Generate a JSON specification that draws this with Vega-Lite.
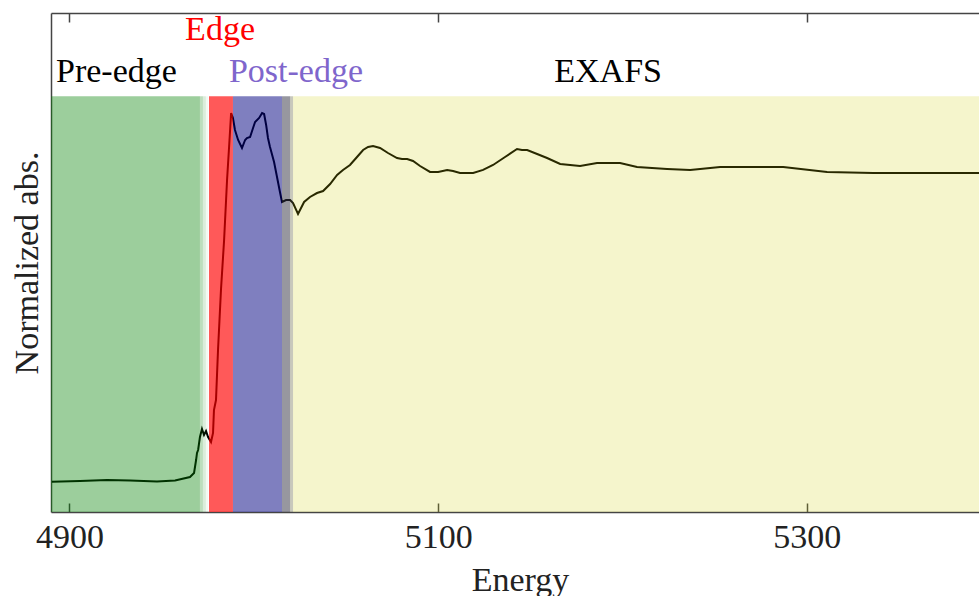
{
  "$schema": "https://vega.github.io/schema/vega-lite/v6.json",
  "width": 928,
  "height": 499,
  "autosize": {"type": "none"},
  "padding": {"left": 51, "top": 13, "right": 0, "bottom": 84},
  "background": "white",
  "config": {"view": {"stroke": null}, "font": "Liberation Serif"},
  "datasets": {
    "curve": [
      {"energy": 4890.5, "absorbance": 0.0729},
      {"energy": 4905.7, "absorbance": 0.0745},
      {"energy": 4920.4, "absorbance": 0.0770},
      {"energy": 4932.9, "absorbance": 0.0758},
      {"energy": 4947.5, "absorbance": 0.0733},
      {"energy": 4957.3, "absorbance": 0.0758},
      {"energy": 4965.4, "absorbance": 0.0842},
      {"energy": 4967.6, "absorbance": 0.0938},
      {"energy": 4968.7, "absorbance": 0.1250},
      {"energy": 4969.2, "absorbance": 0.1419},
      {"energy": 4969.8, "absorbance": 0.1491},
      {"energy": 4970.8, "absorbance": 0.1804},
      {"energy": 4971.9, "absorbance": 0.1996},
      {"energy": 4973.0, "absorbance": 0.1852},
      {"energy": 4974.1, "absorbance": 0.1948},
      {"energy": 4975.2, "absorbance": 0.1804},
      {"energy": 4976.8, "absorbance": 0.1683},
      {"energy": 4977.9, "absorbance": 0.1900},
      {"energy": 4978.4, "absorbance": 0.2453},
      {"energy": 4979.5, "absorbance": 0.2693},
      {"energy": 4980.6, "absorbance": 0.3896},
      {"energy": 4982.2, "absorbance": 0.5339},
      {"energy": 4983.9, "absorbance": 0.6541},
      {"energy": 4985.5, "absorbance": 0.7984},
      {"energy": 4986.6, "absorbance": 0.8778},
      {"energy": 4987.7, "absorbance": 0.9595},
      {"energy": 4988.7, "absorbance": 0.9475},
      {"energy": 4989.8, "absorbance": 0.9186},
      {"energy": 4991.5, "absorbance": 0.8946},
      {"energy": 4993.6, "absorbance": 0.8753},
      {"energy": 4995.3, "absorbance": 0.8946},
      {"energy": 4996.3, "absorbance": 0.8994},
      {"energy": 4998.0, "absorbance": 0.9018},
      {"energy": 4999.6, "absorbance": 0.9234},
      {"energy": 5000.7, "absorbance": 0.9379},
      {"energy": 5002.9, "absorbance": 0.9475},
      {"energy": 5004.5, "absorbance": 0.9595},
      {"energy": 5005.6, "absorbance": 0.9571},
      {"energy": 5006.7, "absorbance": 0.9307},
      {"energy": 5007.7, "absorbance": 0.8994},
      {"energy": 5008.8, "absorbance": 0.8778},
      {"energy": 5011.0, "absorbance": 0.8417},
      {"energy": 5012.6, "absorbance": 0.8056},
      {"energy": 5014.2, "absorbance": 0.7695},
      {"energy": 5015.3, "absorbance": 0.7455},
      {"energy": 5017.5, "absorbance": 0.7503},
      {"energy": 5019.7, "absorbance": 0.7503},
      {"energy": 5021.3, "absorbance": 0.7430},
      {"energy": 5024.0, "absorbance": 0.7168},
      {"energy": 5027.3, "absorbance": 0.7455},
      {"energy": 5030.5, "absorbance": 0.7575},
      {"energy": 5034.3, "absorbance": 0.7671},
      {"energy": 5037.6, "absorbance": 0.7719},
      {"energy": 5041.4, "absorbance": 0.7887},
      {"energy": 5045.2, "absorbance": 0.8104},
      {"energy": 5048.4, "absorbance": 0.8224},
      {"energy": 5052.2, "absorbance": 0.8345},
      {"energy": 5056.0, "absorbance": 0.8537},
      {"energy": 5059.3, "absorbance": 0.8705},
      {"energy": 5062.0, "absorbance": 0.8778},
      {"energy": 5064.7, "absorbance": 0.8802},
      {"energy": 5068.5, "absorbance": 0.8753},
      {"energy": 5072.8, "absorbance": 0.8633},
      {"energy": 5077.7, "absorbance": 0.8513},
      {"energy": 5080.4, "absorbance": 0.8489},
      {"energy": 5083.2, "absorbance": 0.8489},
      {"energy": 5086.4, "absorbance": 0.8441},
      {"energy": 5090.2, "absorbance": 0.8321},
      {"energy": 5095.6, "absorbance": 0.8177},
      {"energy": 5100.0, "absorbance": 0.8177},
      {"energy": 5104.9, "absorbance": 0.8226},
      {"energy": 5108.1, "absorbance": 0.8201},
      {"energy": 5111.9, "absorbance": 0.8153},
      {"energy": 5119.0, "absorbance": 0.8153},
      {"energy": 5124.4, "absorbance": 0.8226},
      {"energy": 5129.8, "absorbance": 0.8345},
      {"energy": 5136.3, "absorbance": 0.8537},
      {"energy": 5142.8, "absorbance": 0.8729},
      {"energy": 5145.5, "absorbance": 0.8705},
      {"energy": 5148.3, "absorbance": 0.8705},
      {"energy": 5153.7, "absorbance": 0.8609},
      {"energy": 5159.1, "absorbance": 0.8513},
      {"energy": 5166.2, "absorbance": 0.8369},
      {"energy": 5177.0, "absorbance": 0.8320},
      {"energy": 5186.2, "absorbance": 0.8393},
      {"energy": 5198.7, "absorbance": 0.8393},
      {"energy": 5207.9, "absorbance": 0.8297},
      {"energy": 5224.2, "absorbance": 0.8249},
      {"energy": 5236.7, "absorbance": 0.8224},
      {"energy": 5253.0, "absorbance": 0.8297},
      {"energy": 5274.7, "absorbance": 0.8297},
      {"energy": 5287.2, "absorbance": 0.8297},
      {"energy": 5311.0, "absorbance": 0.8177},
      {"energy": 5336.0, "absorbance": 0.8153},
      {"energy": 5361.5, "absorbance": 0.8153},
      {"energy": 5393.4, "absorbance": 0.8153}
    ],
    "regions": [
      {"region": "pre-edge", "start": 4890, "end": 4970.8},
      {"region": "pre-edge fade 1", "start": 4970.8, "end": 4972.4},
      {"region": "pre-edge fade 2", "start": 4972.4, "end": 4974.0},
      {"region": "pre-edge fade 3", "start": 4974.0, "end": 4975.2},
      {"region": "edge", "start": 4975.7, "end": 4988.7},
      {"region": "post-edge", "start": 4988.7, "end": 5015.3},
      {"region": "transition", "start": 5015.3, "end": 5019.7},
      {"region": "transition fade", "start": 5019.7, "end": 5021.3},
      {"region": "exafs", "start": 5021.3, "end": 5393.4}
    ],
    "labels": [
      {"label": "Pre-edge", "energy": 4925.5, "height": 1.034},
      {"label": "Edge", "energy": 4981.7, "height": 1.135},
      {"label": "Post-edge", "energy": 5022.9, "height": 1.034},
      {"label": "EXAFS", "energy": 5192.2, "height": 1.034}
    ]
  },
  "resolve": {"scale": {"color": "independent"}},
  "layer": [
    {
      "data": {"name": "curve"},
      "mark": {"type": "line", "color": "#000000", "strokeWidth": 2, "clip": true},
      "encoding": {
        "x": {
          "field": "energy", "type": "quantitative",
          "scale": {"domain": [4890, 5393.4], "nice": false, "zero": false},
          "axis": {
            "orient": "bottom", "values": [4900, 5100, 5300], "format": "d", "grid": false,
            "tickSize": -9, "tickColor": "#444", "tickWidth": 1.5,
            "domainColor": "#444", "domainWidth": 1.5,
            "labelFont": "Liberation Serif", "labelFontSize": 34, "labelColor": "#222", "labelPadding": 17,
            "title": "Energy", "titleFont": "Liberation Serif", "titleFontSize": 34, "titleFontWeight": "normal",
            "titleColor": "#222", "titleX": 469, "titleY": 78, "titleBaseline": "alphabetic", "titleAlign": "center"
          }
        },
        "y": {
          "field": "absorbance", "type": "quantitative",
          "scale": {"domain": [0, 1.2], "nice": false, "zero": false},
          "axis": {
            "orient": "left", "ticks": false, "labels": false, "grid": false,
            "domainColor": "#444", "domainWidth": 1.5,
            "title": "Normalized abs.", "titleFont": "Liberation Serif", "titleFontSize": 34, "titleFontWeight": "normal",
            "titleColor": "#222", "titleX": -14, "titleY": 249.5, "titleAngle": 270, "titleBaseline": "alphabetic", "titleAlign": "center"
          }
        }
      }
    },
    {
      "data": {"name": "regions"},
      "mark": {"type": "rect"},
      "encoding": {
        "x": {
          "field": "start", "type": "quantitative",
          "axis": {
            "orient": "top", "values": [4900, 5100, 5300], "labels": false, "grid": false,
            "tickSize": -9, "tickColor": "#444", "tickWidth": 1.5,
            "domainColor": "#444", "domainWidth": 1.5, "title": null
          }
        },
        "x2": {"field": "end"},
        "y": {"datum": 0},
        "y2": {"datum": 1.0},
        "color": {
          "field": "region", "type": "nominal", "legend": null,
          "scale": {
            "domain": ["pre-edge", "pre-edge fade 1", "pre-edge fade 2", "pre-edge fade 3", "edge", "post-edge", "transition", "transition fade", "exafs"],
            "range": ["rgba(0,128,0,0.39)", "rgba(0,128,0,0.26)", "rgba(0,128,0,0.14)", "rgba(0,128,0,0.05)", "rgba(255,0,0,0.65)", "rgba(0,0,128,0.5)", "rgba(48,48,64,0.5)", "rgba(96,96,64,0.35)", "rgba(204,204,0,0.2)"]
          }
        }
      }
    },
    {
      "data": {"name": "labels"},
      "mark": {"type": "text", "font": "Liberation Serif", "fontSize": 34, "align": "center", "baseline": "alphabetic"},
      "encoding": {
        "x": {"field": "energy", "type": "quantitative", "axis": null},
        "y": {"field": "height", "type": "quantitative"},
        "text": {"field": "label"},
        "color": {
          "field": "label", "type": "nominal", "legend": null,
          "scale": {"domain": ["Pre-edge", "Edge", "Post-edge", "EXAFS"], "range": ["#000000", "#ff0000", "#7f66cc", "#000000"]}
        }
      }
    }
  ]
}
